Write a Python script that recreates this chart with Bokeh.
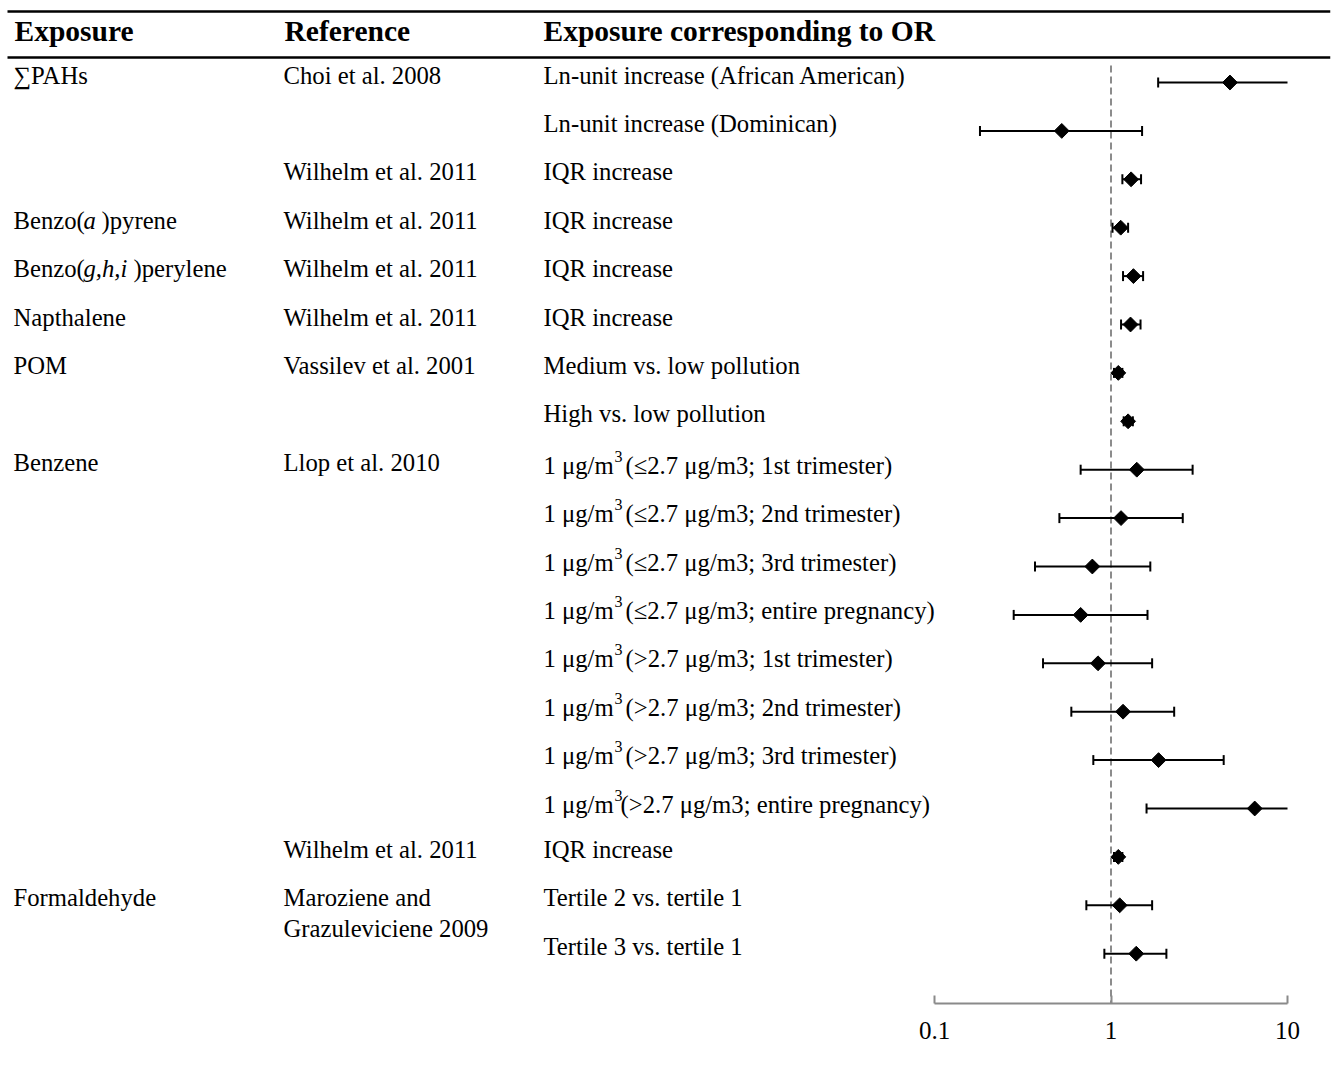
import numpy as np
from bokeh.plotting import figure
from bokeh.models import Range1d, LogScale, LogAxis, FixedTicker, NumeralTickFormatter
from bokeh.core.properties import value
from bokeh.embed import file_html
from bokeh.resources import INLINE

# ------------------------------------------------------------------ data
exposure = ["∑PAHs", "", "", "Benzo(a )pyrene", "Benzo(g,h,i )perylene", "Napthalene", "POM", "",
            "Benzene", "", "", "", "", "", "", "", "", "Formaldehyde", ""]

reference = ["Choi et al. 2008", "", "Wilhelm et al. 2011", "Wilhelm et al. 2011", "Wilhelm et al. 2011",
             "Wilhelm et al. 2011", "Vassilev et al. 2001", "", "Llop et al. 2010", "", "", "", "", "", "",
             "", "Wilhelm et al. 2011", "Maroziene and\nGrazuleviciene 2009", ""]

contrast = ["Ln-unit increase (African American)",
            "Ln-unit increase (Dominican)",
            "IQR increase",
            "IQR increase",
            "IQR increase",
            "IQR increase",
            "Medium vs. low pollution",
            "High vs. low pollution",
            "1 μg/m3 (≤2.7 μg/m3; 1st trimester)",
            "1 μg/m3 (≤2.7 μg/m3; 2nd trimester)",
            "1 μg/m3 (≤2.7 μg/m3; 3rd trimester)",
            "1 μg/m3 (≤2.7 μg/m3; entire pregnancy)",
            "1 μg/m3 (>2.7 μg/m3; 1st trimester)",
            "1 μg/m3 (>2.7 μg/m3; 2nd trimester)",
            "1 μg/m3 (>2.7 μg/m3; 3rd trimester)",
            "1 μg/m3(>2.7 μg/m3; entire pregnancy)",
            "IQR increase",
            "Tertile 2 vs. tertile 1",
            "Tertile 3 vs. tertile 1"]

or_est = [4.72, 0.526, 1.30, 1.135, 1.34, 1.29, 1.10, 1.25,
          1.40, 1.14, 0.784, 0.673, 0.844, 1.17, 1.86, 6.52,
          1.10, 1.12, 1.39]
ci_lo = [1.85, 0.181, 1.16, 1.02, 1.17, 1.14, 1.04, 1.18,
         0.673, 0.51, 0.371, 0.281, 0.412, 0.596, 0.794, 1.59,
         1.04, 0.725, 0.917]
ci_hi = [10.0, 1.50, 1.48, 1.25, 1.52, 1.47, 1.16, 1.33,
         2.90, 2.55, 1.67, 1.61, 1.71, 2.28, 4.35, 10.0,
         1.16, 1.71, 2.06]

axis_ticks = [0.1, 1, 10]
null_or = 1.0

headers = ["Exposure", "Reference", "Exposure corresponding to OR"]

# ------------------------------------------------------------------ layout
W, H = 1336, 1071
FRAME_RIGHT_PX = 1330
FRAME_BOTTOM_PX = 1003.0
ROW0_PX, ROW_STEP_PX = 82.0, 48.4
AXIS_LO_PX, AXIS_HI_PX = 934.0, 1287.0
DECADE_PX = (AXIS_HI_PX - AXIS_LO_PX) / 2.0
COL_X = [13, 283, 543]
HEAD_X = [14, 284, 543]

def px_to_row(ypx):
    return (ypx - ROW0_PX) / ROW_STEP_PX

def off(px):
    return px / ROW_STEP_PX

or_start = 10 ** (-1 - AXIS_LO_PX / DECADE_PX)
or_end = 10 ** (-1 + (FRAME_RIGHT_PX - AXIS_LO_PX) / DECADE_PX)

FONT = value("Liberation Serif")
BODY = "24.7px"
HEAD = "29.5px"
SUP = "16px"
BASE = -7.5  # baseline offset (px) relative to row centre
BASE_UNIT = -4.5  # rows carrying a superscript sit a little lower

p = figure(width=W, height=H, output_backend="svg", toolbar_location=None,
           x_range=Range1d(0, FRAME_RIGHT_PX),
           y_range=Range1d(px_to_row(FRAME_BOTTOM_PX), px_to_row(0)),
           x_axis_location=None, y_axis_location=None,
           min_border_left=0, min_border_right=W - FRAME_RIGHT_PX,
           min_border_top=0, min_border_bottom=H - int(FRAME_BOTTOM_PX),
           extra_x_ranges={"or": Range1d(or_start, or_end)},
           extra_x_scales={"or": LogScale()})
p.outline_line_color = None
p.xgrid.visible = False
p.ygrid.visible = False
p.background_fill_color = "white"
p.border_fill_color = "white"


def put(xs, ys, texts, style="normal", size=BODY):
    p.text(x=xs, y=ys, text=texts, text_font=FONT, text_font_size=size,
           text_font_style=style, text_color="black",
           text_baseline="alphabetic", text_align="left")


# header rules and header text
p.segment(x0=[7, 7], x1=[FRAME_RIGHT_PX, FRAME_RIGHT_PX],
          y0=[px_to_row(11), px_to_row(57)], y1=[px_to_row(11), px_to_row(57)],
          line_color="black", line_width=2.3)
put(HEAD_X, [px_to_row(30)] * 3, headers, style="bold", size=HEAD)

# exposure column (with italic pieces)
RICH = {
    "Benzo(a )pyrene": [("Benzo(", "normal", 13), ("a", "italic", 83), (")pyrene", "normal", 101)],
    "Benzo(g,h,i )perylene": [("Benzo(", "normal", 13), ("g,h,i", "italic", 83), (")perylene", "normal", 133)],
}
for i, lab in enumerate(exposure):
    if not lab:
        continue
    if lab in RICH:
        for txt, st, x in RICH[lab]:
            put([x], [i + off(BASE)], [txt], style=st)
    else:
        put([COL_X[0]], [i + off(BASE)], [lab])

# reference column
LINE2_PX = 31
for i, lab in enumerate(reference):
    if not lab:
        continue
    for k, line in enumerate(lab.split("\n")):
        put([COL_X[1]], [i + off(BASE + k * LINE2_PX)], [line])

# contrast column (with superscript in units)
SUP_X = 614
for i, lab in enumerate(contrast):
    if lab.startswith("1 μg/m3"):
        rest = lab[len("1 μg/m3"):]
        rest_x = 625 if rest.startswith(" ") else 620
        put([COL_X[2]], [i + off(BASE_UNIT)], ["1 μg/m"])
        put([SUP_X], [i + off(BASE_UNIT - 9)], ["3"], size=SUP)
        put([rest_x], [i + off(BASE_UNIT)], [rest.strip()])
    else:
        put([COL_X[2]], [i + off(BASE)], [lab])

# ------------------------------------------------------------------ forest
rows = list(range(len(or_est)))

p.segment(x0=[null_or], x1=[null_or], y0=[px_to_row(65)], y1=[px_to_row(FRAME_BOTTOM_PX)],
          x_range_name="or", line_color="#8c8c8c", line_width=2, line_dash="7 4")

p.segment(x0=ci_lo, x1=ci_hi, y0=rows, y1=rows, x_range_name="or",
          line_color="black", line_width=2)

cap_x = list(ci_lo) + [h for h in ci_hi if h < axis_ticks[-1]]
cap_y = list(rows) + [r for r, h in zip(rows, ci_hi) if h < axis_ticks[-1]]
p.scatter(x=cap_x, y=cap_y, marker="dash", size=10, angle=np.pi / 2, x_range_name="or",
          line_color="black", line_width=2)

p.scatter(x=or_est, y=rows, marker="square", size=10.5, angle=np.pi / 4, x_range_name="or",
          fill_color="black", line_color="black", line_width=1)

ax = LogAxis(x_range_name="or", bounds=(axis_ticks[0], axis_ticks[-1]),
             ticker=FixedTicker(ticks=axis_ticks, minor_ticks=[]),
             formatter=NumeralTickFormatter(format="0.[0]"))
ax.axis_line_color = "#8a8a8a"
ax.axis_line_width = 2
ax.major_tick_line_color = "#8a8a8a"
ax.major_tick_line_width = 2
ax.major_tick_in = 8
ax.major_tick_out = 0
ax.minor_tick_in = 0
ax.minor_tick_out = 0
ax.major_label_text_font = "Liberation Serif"
ax.major_label_text_font_size = "25px"
ax.major_label_text_color = "black"
ax.major_label_standoff = 18
p.add_layout(ax, "below")

open("out.html", "w").write(file_html(p, INLINE))
